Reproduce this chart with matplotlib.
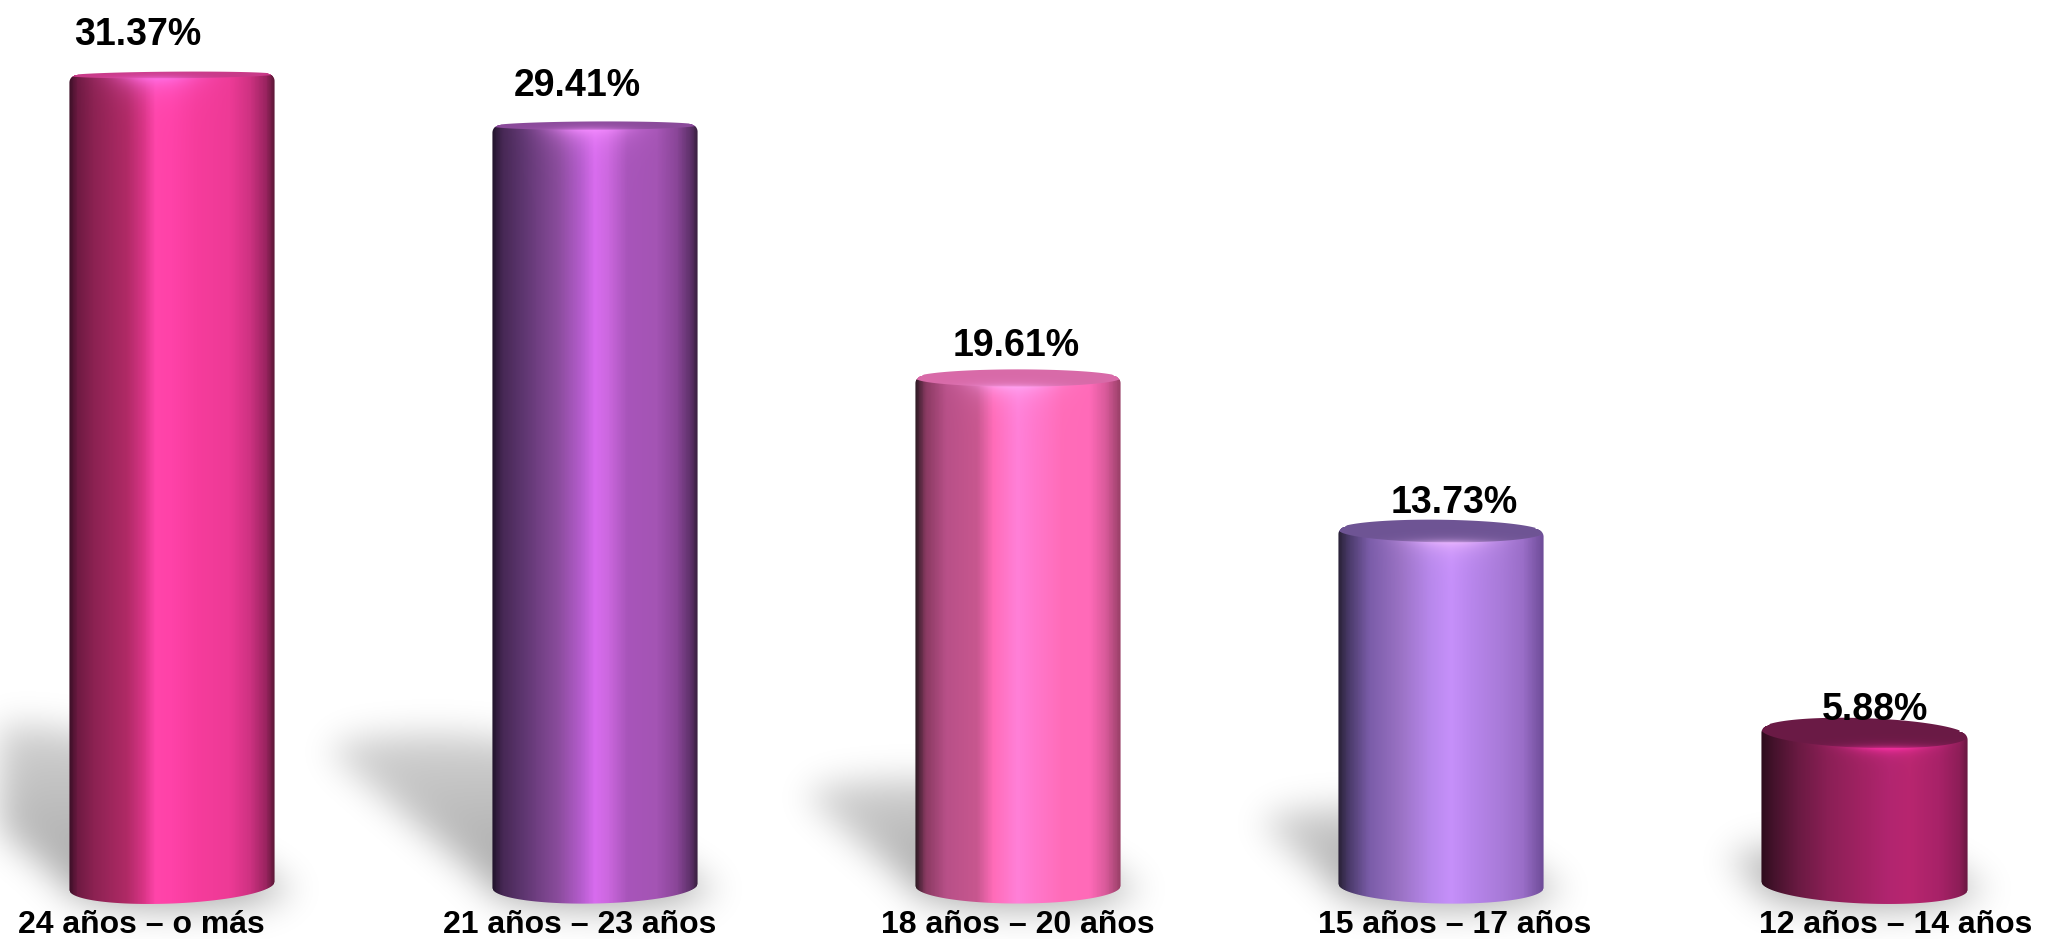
import numpy as np
import matplotlib
matplotlib.use("Agg")
import matplotlib.pyplot as plt
from matplotlib.colors import LinearSegmentedColormap, to_rgb

# ---------------- data ----------------
categories = ["24 años – o más", "21 años – 23 años", "18 años – 20 años",
              "15 años – 17 años", "12 años – 14 años"]
values = [31.37, 29.41, 19.61, 13.73, 5.88]
value_labels = ["31.37%", "29.41%", "19.61%", "13.73%", "5.88%"]

# ---------------- styles ----------------
side_gradients = [
    [(0, '#3e1028'), (0.04, '#6e1a42'), (0.12, '#8c2252'), (0.28, '#b02a66'), (0.36, '#d83485'),
     (0.42, '#ff45aa'), (0.5, '#ff42a8'), (0.62, '#f63c9c'), (0.78, '#ee3a96'), (0.88, '#cf3282'),
     (0.96, '#9a2460'), (1, '#5e1838')],
    [(0, '#22142c'), (0.05, '#472855'), (0.15, '#5e3670'), (0.32, '#8a4c9c'), (0.43, '#b45ccc'),
     (0.5, '#d86cee'), (0.56, '#cd68e0'), (0.66, '#a855ba'), (0.8, '#a454b4'), (0.9, '#8a4698'),
     (0.97, '#5c3068'), (1, '#3a2040')],
    [(0, '#2e1a24'), (0.05, '#8a3a62'), (0.15, '#b85088'), (0.3, '#c8578f'), (0.38, '#ff6cb8'),
     (0.5, '#ff80d8'), (0.58, '#ff78cc'), (0.72, '#ff6cb8'), (0.85, '#ff6ab8'), (0.93, '#d85a9a'),
     (1, '#9a4068')],
    [(0, '#2a2238'), (0.05, '#4a3a6a'), (0.15, '#7a5ca8'), (0.3, '#9a72c4'), (0.45, '#b888ec'),
     (0.55, '#c690fa'), (0.65, '#b886ec'), (0.8, '#a87ad8'), (0.9, '#9a6ec8'), (1, '#6e4c98')],
    [(0, '#2e0c1c'), (0.06, '#45122c'), (0.18, '#6a1a42'), (0.32, '#8a1f55'), (0.48, '#a02262'),
     (0.62, '#b22570'), (0.72, '#b8266f'), (0.86, '#a82268'), (0.96, '#8e1e58'), (1, '#6a1842')],
]
top_colors = ['#c83a88', '#8a4a9a', '#d86aa8', '#6e5494', '#6a1a45']
highlight_colors = ['#ff70e6', '#f48cff', '#ffa6f4', '#ecb8ff', '#ff30a8']
highlight_center = [0.43, 0.48, 0.48, 0.55, 0.62]
highlight_decay = [12, 12, 11, 9, 5]
highlight_strength = [0.9, 0.9, 0.85, 0.85, 0.9]

W, H = 2047, 939
bar_w = 0.485
corner_r = 8.0
label_dx = [-34, -18, -2, 13, 11]
label_dy = [30, 30, 23, 18, 14]
cat_dx = [-31, -15, 0, 14, 32]

fig = plt.figure(figsize=(W / 100, H / 100), dpi=100)
fig.patch.set_facecolor('white')
ax = fig.add_axes([0, 0, 1, 1])
ax.set_xlim(-0.4066, 4.4326)
ax.set_ylim(-2.05, 34.27)
ax.axis('off')

inv = ax.transData.inverted()


def to_px(x, y):
    X, Y = ax.transData.transform((x, y))
    return X, H - Y


def to_data(px, py):
    return inv.transform((px, H - py))


def blur1d(arr, sigma, axis):
    r = int(3 * sigma)
    k = np.exp(-0.5 * (np.arange(-r, r + 1) / sigma) ** 2)
    k /= k.sum()
    pw = [(0, 0), (0, 0)]
    pw[axis] = (r, r)
    pad = np.pad(arr, pw, mode='constant')
    out = np.zeros_like(arr)
    n = arr.shape[axis]
    for j, kj in enumerate(k):
        sl = [slice(None), slice(None)]
        sl[axis] = slice(j, j + n)
        out += kj * pad[tuple(sl)]
    return out


# ---------------- geometry ----------------
geo = []
for i, v in enumerate(values):
    cx, yb = to_px(i, 0)
    _, yt = to_px(i, v)
    xl, _ = to_px(i - bar_w / 2, 0)
    xr, _ = to_px(i + bar_w / 2, 0)
    a = (xr - xl) / 2
    bb = 2 + 0.0175 * yb
    bt = 2 + 0.0175 * yt
    s = 0.02 * (i - 2)
    geo.append((cx, yb, yt, a, bb, bt, s))

# ---------------- shadows ----------------
SY0 = 560
sh = np.zeros((H - SY0, W))
ys_s = np.arange(SY0, H) + 0.5
xs_s = np.arange(W) + 0.5
XX, YY = np.meshgrid(xs_s, ys_s)
for (cx, yb, yt, a, bb, bt, s) in geo:
    L = 0.178 * (yb - yt)
    for t in np.linspace(0, 1, 60):
        ccx = cx - 1.2 * L * t
        ccy = yb - L * t
        m = ((XX - ccx) / a) ** 2 + ((YY - ccy) / bb) ** 2 <= 1
        sh = np.maximum(sh, m * (1 - 0.45 * t))
    m = ((XX - cx - 6) / (a + 14)) ** 2 + ((YY - yb - 3) / (bb + 8)) ** 2 <= 1
    sh = np.maximum(sh, m * 0.45)
sh = blur1d(blur1d(sh, 17, 0), 17, 1)
rgba = np.zeros((H - SY0, W, 4))
rgba[..., 3] = np.clip(0.33 * sh, 0, 1)
l_d, t_d = to_data(0, SY0)
r_d, b_d = to_data(W, H)
ax.imshow(rgba, extent=(l_d, r_d, b_d, t_d), origin='upper', interpolation='nearest',
          aspect='auto', zorder=1)

# ---------------- cylinders ----------------
for i, (cx, yb, yt, a, bb, bt, s) in enumerate(geo):
    cmap = LinearSegmentedColormap.from_list('g%d' % i, side_gradients[i])
    st = s * bt / bb  # top ellipse tilt scales with its opening
    x0 = int(np.floor(cx - a - 2)); x1 = int(np.ceil(cx + a + 2))
    y0 = int(np.floor(yt - bt - abs(st) * a - 3)); y1 = int(np.ceil(yb + bb + abs(s) * a + 3))
    xs = np.arange(x0, x1) + 0.5
    ys = np.arange(y0, y1) + 0.5
    X, Y = np.meshgrid(xs, ys)
    dx = X - cx
    q = np.sqrt(np.clip(1 - (dx / a) ** 2, 0, 1))
    top_mid = yt + st * dx
    top_back = top_mid - bt * q
    top_front = top_mid + bt * q
    bot_front = yb + bb * q + s * dx
    # rounded cap corners
    d = np.clip(Y - top_mid + bt * 0.3, 0, None)
    aw = a - corner_r + np.sqrt(np.clip(corner_r ** 2 - (corner_r - np.clip(d, 0, corner_r)) ** 2, 0, None))
    aw = np.where(d >= corner_r, a, aw)
    alpha = (np.clip(aw - np.abs(dx) + 0.5, 0, 1) * np.clip(Y - top_back + 0.5, 0, 1)
             * np.clip(bot_front - Y + 0.5, 0, 1))
    u = np.clip((dx + a) / (2 * a), 0, 1)
    side = cmap(u)[..., :3]
    hx = np.exp(-((u - highlight_center[i]) / 0.2) ** 2)
    hw = hx * np.exp(-np.clip(Y - top_front, 0, None) / highlight_decay[i])
    hl = np.array(to_rgb(highlight_colors[i]))
    k = highlight_strength[i] * hw[..., None]
    side = side * (1 - k) + hl * k
    tc = np.array(to_rgb(top_colors[i]))
    hwt = (hx * np.exp(-np.clip(top_front - Y, 0, None) / 3.0))[..., None] * 0.7
    topc = tc * (1 - hwt) + hl * hwt
    topw = np.clip(top_front - Y + 0.5, 0, 1)[..., None]
    color = side * (1 - topw) + topc * topw
    img = np.dstack([color, alpha])
    ld, td = to_data(x0, y0)
    rd, bd = to_data(x1, y1)
    ax.imshow(img, extent=(ld, rd, bd, td), origin='upper', interpolation='nearest',
              aspect='auto', zorder=2 + i * 0.01)

# ---------------- text ----------------
for i, v in enumerate(values):
    ax.annotate(value_labels[i], xy=(i, v), xytext=(label_dx[i], label_dy[i]),
                textcoords='offset pixels', ha='center', va='baseline',
                fontsize=27, fontweight='bold', family=['Liberation Sans', 'DejaVu Sans'],
                color='black', zorder=5)
    ax.annotate(categories[i], xy=(i, 0), xytext=(cat_dx[i], -47),
                textcoords='offset pixels', ha='center', va='baseline',
                fontsize=23, fontweight='bold', family=['Liberation Sans', 'DejaVu Sans'],
                color='black', zorder=5)

ax.set_xlim(-0.4066, 4.4326)
ax.set_ylim(-2.05, 34.27)
fig.savefig('out.png', dpi=100, facecolor='white')
